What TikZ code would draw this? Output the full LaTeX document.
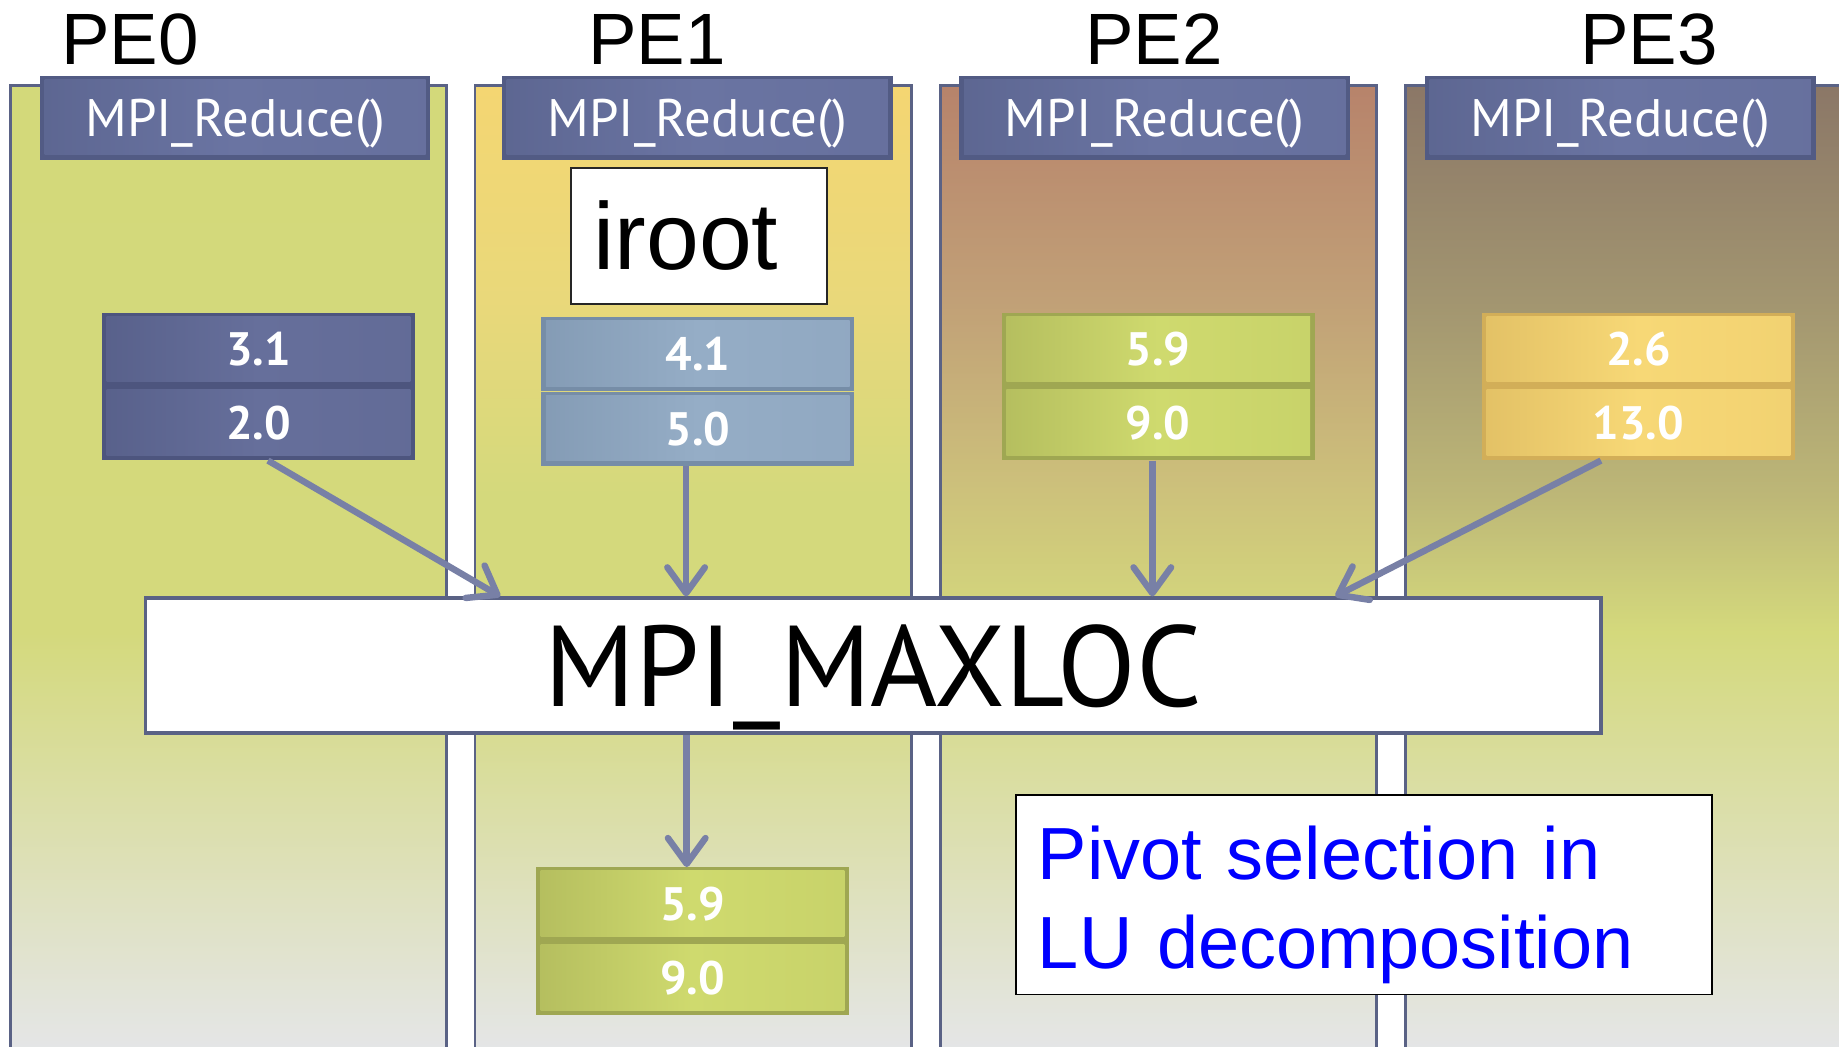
\documentclass[tikz,border=0pt]{standalone}
\usepackage{fontspec}
\setmainfont{Liberation Sans}
\newfontfamily\gillfont{PT Sans}
\usetikzlibrary{arrows.meta}

% palette
\definecolor{colline}{HTML}{5A6285}
\definecolor{arrowc}{HTML}{7880A6}
\definecolor{greyb}{HTML}{E5E6EA}
\definecolor{ygreen}{HTML}{D4D97C}
\definecolor{peAtop}{HTML}{D3D97A}
\definecolor{peBtop}{HTML}{F4D672}
\definecolor{peBmid}{HTML}{E9D87A}
\definecolor{peCtop}{HTML}{B7836B}
\definecolor{peCmid}{HTML}{C1A077}
\definecolor{peClow}{HTML}{CDC27B}
\definecolor{peDtop}{HTML}{8B7767}
\definecolor{peDmid}{HTML}{A29570}
\definecolor{peDlow}{HTML}{BDB777}
\definecolor{hdredge}{HTML}{525B84}
\definecolor{hdrface}{HTML}{6A74A2}
\definecolor{slateedge}{HTML}{4D557E}
\definecolor{slateface}{HTML}{666F9B}
\definecolor{steeledge}{HTML}{768DA7}
\definecolor{steelface}{HTML}{95ADC6}
\definecolor{oliveedge}{HTML}{9FA752}
\definecolor{oliveface}{HTML}{CFDA6E}
\definecolor{goldedge}{HTML}{D2AE58}
\definecolor{goldface}{HTML}{F7D876}

% column backgrounds (the visible band of a path shading runs from 25bp to 75bp)
\pgfdeclareverticalshading{colA}{100bp}{color(0bp)=(greyb); color(25bp)=(greyb);
  color(47bp)=(ygreen); color(75bp)=(peAtop); color(100bp)=(peAtop)}
\pgfdeclareverticalshading{colB}{100bp}{color(0bp)=(greyb); color(25bp)=(greyb);
  color(46bp)=(ygreen); color(54bp)=(ygreen); color(64bp)=(peBmid);
  color(75bp)=(peBtop); color(100bp)=(peBtop)}
\pgfdeclareverticalshading{colC}{100bp}{color(0bp)=(greyb); color(25bp)=(greyb);
  color(47bp)=(ygreen); color(54bp)=(peClow); color(64bp)=(peCmid);
  color(75bp)=(peCtop); color(100bp)=(peCtop)}
\pgfdeclareverticalshading{colD}{100bp}{color(0bp)=(greyb); color(25bp)=(greyb);
  color(47bp)=(ygreen); color(54bp)=(peDlow); color(64bp)=(peDmid);
  color(75bp)=(peDtop); color(100bp)=(peDtop)}

\begin{document}
\begin{tikzpicture}[x=1pt,y=-1pt,
  column/.style={shade, shading=#1, draw=colline, line width=2.5pt},
  bevel/.style 2 args={rectangle, inner sep=0pt, fill=#1,
    path picture={\shade[left color=#1!55!#2, right color=#2!85!#1, middle color=#2]
      ([shift={(4pt,-3pt)}]path picture bounding box.north west) rectangle
      ([shift={(-4pt,4pt)}]path picture bounding box.south east);}},
  hdr/.style={bevel={hdredge}{hdrface}, minimum width=333pt, minimum height=71pt,
    text depth=0pt, text=white, font=\gillfont\fontsize{45}{50}\selectfont},
  cell/.style 2 args={bevel={#1}{#2}, minimum width=267pt, minimum height=63pt,
    text=white, font=\gillfont\bfseries\fontsize{40}{44}\selectfont},
  pelabel/.style={anchor=base, inner sep=0pt, font=\fontsize{62}{70}\selectfont},
  whitebox/.style={rectangle, fill=white, align=left},
  arr/.style={draw=arrowc, line width=5.5pt,
    -{Straight Barb[length=22pt, width=32pt, round]}}]

\clip (0,0) rectangle (1568,892);
\fill[white] (0,0) rectangle (1568,892);

% one column per processing element
\path[column=colA] (9,73) rectangle (381,905);
\path[column=colB] (405,73) rectangle (777,905);
\path[column=colC] (802,73) rectangle (1174,905);
\path[column=colD] (1198,73) rectangle (1585,905);

% headers
\node[hdr] (h0) at (200.5,100.5) {MPI\_Reduce()};
\node[hdr] (h1) at (594.5,100.5) {MPI\_Reduce()};
\node[hdr] (h2) at (984.5,100.5) {MPI\_Reduce()};
\node[hdr] (h3) at (1381.5,100.5) {MPI\_Reduce()};

% process labels
\node[pelabel] (pe0) at (111,55) {PE0};
\node[pelabel] (pe1) at (560,55) {PE1};
\node[pelabel] (pe2) at (984,55) {PE2};
\node[pelabel] (pe3) at (1406,55) {PE3};

% root marker
\node[whitebox, draw=black!85, line width=1.5pt, text width=180pt, inner xsep=19pt,
  inner ysep=0pt, minimum height=116pt, font=\fontsize{81}{90}\selectfont]
  (iroot) at (596,201) {iroot};

% local (value, index) pairs
\node[cell={slateedge}{slateface}] (c0t) at (220.5,298) {3.1};
\node[cell={slateedge}{slateface}] (c0b) at (220.5,361) {2.0};
\node[cell={steeledge}{steelface}] (c1t) at (595,302) {4.1};
\node[cell={steeledge}{steelface}] (c1b) at (595,365.5) {5.0};
\node[cell={oliveedge}{oliveface}] (c2t) at (987.5,298) {5.9};
\node[cell={oliveedge}{oliveface}] (c2b) at (987.5,361) {9.0};
\node[cell={goldedge}{goldface}] (c3t) at (1397,298) {2.6};
\node[cell={goldedge}{goldface}] (c3b) at (1397,361) {13.0};

% reduction operator
\node[rectangle, fill=white, draw=colline, line width=3pt, minimum width=1241pt,
  minimum height=115pt, inner sep=0pt, text depth=0pt,
  font=\gillfont\fontsize{98}{100}\selectfont]
  (maxloc) at (744.5,567.5) {MPI\_MAXLOC};

% result on the root
\node[cell={oliveedge}{oliveface}] (rt) at (590.5,771) {5.9};
\node[cell={oliveedge}{oliveface}] (rb) at (590.5,834) {9.0};

% caption box
\node[whitebox, draw=black, line width=1.5pt, text width=556pt, inner xsep=19pt,
  inner ysep=0pt, minimum height=170pt, text=blue,
  font=\fontsize{63}{76}\selectfont]
  (pivot) at (1163,763) {\rule{0pt}{62pt}Pivot selection in\\LU decomposition};

% data flow
\draw[arr] ([xshift=8pt]c0b.south) -- ([xshift=304pt]maxloc.north west);
\draw[arr] ([xshift=-10pt]c1b.south) -- ([xshift=-10pt]c1b.south |- maxloc.north);
\draw[arr] ([xshift=-5pt]c2b.south) -- ([xshift=-5pt]c2b.south |- maxloc.north);
\draw[arr] ([xshift=-32pt]c3b.south) -- ([xshift=1016pt]maxloc.north west);
\draw[arr] ([xshift=-5pt]rt.north |- maxloc.south) -- ([xshift=-5pt]rt.north);
\end{tikzpicture}
\end{document}
